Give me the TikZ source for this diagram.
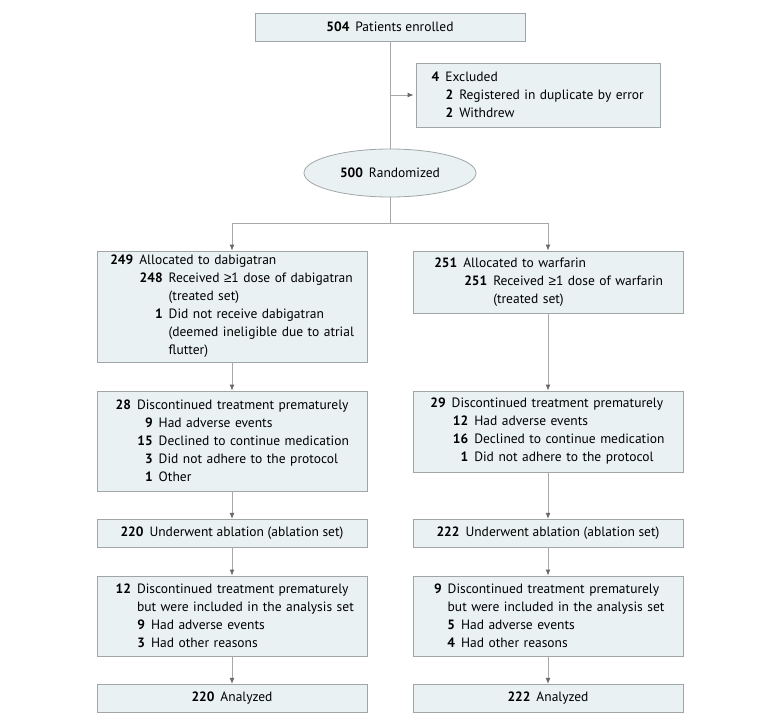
\documentclass[tikz,border=0pt]{standalone}
\usepackage{fontspec}
\setmainfont{PT Sans}
\newfontfamily\symfont{Liberation Sans}
\usetikzlibrary{shapes.geometric,arrows.meta}
\definecolor{boxfill}{RGB}{233,241,243}
\definecolor{boxline}{RGB}{160,166,168}
\definecolor{flowline}{RGB}{168,168,168}
\definecolor{tipgray}{RGB}{105,105,105}
% numbered line and continuation line inside a box
\newcommand{\itm}[3]{\makebox[#1pt][r]{\bfseries #2}\hspace{6pt}#3}
\newcommand{\cnt}[2]{\hspace*{\dimexpr#1pt+6pt\relax}#2}
\newcommand{\geqs}{{\symfont ≥}}

\begin{document}
\begin{tikzpicture}[x=1pt,y=-1pt,
	font=\fontsize{13.5}{18}\selectfont,
	box/.style={draw=boxline,fill=boxfill,line width=0.8pt,minimum width=270pt,inner sep=0pt},
	lbox/.style={box,text width=270pt,align=left},
	lne/.style={draw=flowline,line width=0.9pt},
	arr/.style={lne,-{Latex[length=6pt,width=5pt,color=tipgray]}}]
	\useasboundingbox (0,0) rectangle (780,726);
	\node[box,minimum height=28pt] (enrol) at (390,27) {\textbf{504}\hspace{6pt}Patients enrolled};
	\node[lbox,text width=244pt,minimum width=244pt,minimum height=64pt] (excl) at (538,95)
		{\itm{23.3}{4}{Excluded}\\ \itm{37.3}{2}{Registered in duplicate by error}\\ \itm{37.3}{2}{Withdrew}};
	\node[ellipse,draw=boxline,fill=boxfill,line width=0.8pt,minimum width=172pt,minimum height=48pt,inner sep=0pt]
		(rand) at (390,173) {\textbf{500}\hspace{6pt}Randomized};
	\coordinate (split) at (390,223);

	% dabigatran arm
	\node[lbox,minimum height=111pt] (dab1) at (232,306.5)
		{\itm{36.3}{249}{Allocated to dabigatran}\\ \itm{65.7}{248}{Received \geqs1 dose of dabigatran}\\
		\cnt{65.7}{(treated set)}\\ \itm{65.7}{1}{Did not receive dabigatran}\\
		\cnt{65.7}{(deemed ineligible due to atrial}\\ \cnt{65.7}{flutter)}};
	\node[lbox,minimum height=100pt] (dab2) at (232,441)
		{\itm{34}{28}{Discontinued treatment prematurely}\\ \itm{55.7}{9}{Had adverse events}\\
		\itm{55.7}{15}{Declined to continue medication}\\ \itm{55.7}{3}{Did not adhere to the protocol}\\
		\itm{55.7}{1}{Other}};
	\node[box,minimum height=28pt] (dab3) at (232,533.3) {\textbf{220}\hspace{6pt}Underwent ablation (ablation set)};
	\node[lbox,minimum height=80pt] (dab4) at (232,616)
		{\itm{34}{12}{Discontinued treatment prematurely}\\ \cnt{34}{but were included in the analysis set}\\
		\itm{48}{9}{Had adverse events}\\ \itm{48}{3}{Had other reasons}};
	\node[box,minimum height=28pt] (dab5) at (232,698.3) {\textbf{220}\hspace{6pt}Analyzed};

	% warfarin arm
	\node[lbox,minimum height=62pt] (war1) at (548,282)
		{\itm{44.3}{251}{Allocated to warfarin}\\ \itm{74.3}{251}{Received \geqs1 dose of warfarin}\\
		\cnt{74.3}{(treated set)}};
	\node[lbox,minimum height=81pt] (war2) at (548,431.5)
		{\itm{32.7}{29}{Discontinued treatment prematurely}\\ \itm{55.3}{12}{Had adverse events}\\
		\itm{55.3}{16}{Declined to continue medication}\\ \itm{55.3}{1}{Did not adhere to the protocol}};
	\node[box,minimum height=28pt] (war3) at (548,533.3) {\textbf{222}\hspace{6pt}Underwent ablation (ablation set)};
	\node[lbox,minimum height=80pt] (war4) at (548,616)
		{\itm{28.7}{9}{Discontinued treatment prematurely}\\ \cnt{28.7}{but were included in the analysis set}\\
		\itm{42}{5}{Had adverse events}\\ \itm{42}{4}{Had other reasons}};
	\node[box,minimum height=28pt] (war5) at (548,698.3) {\textbf{222}\hspace{6pt}Analyzed};

	% connectors
	\draw[lne] (enrol) -- (rand);
	\draw[arr,shorten >=2pt] (enrol.south |- excl.west) -- (excl.west);
	\draw[lne] (rand) -- (split);
	\draw[lne] (dab1.north |- split) -- (war1.north |- split);
	\draw[arr] (dab1.north |- split) -- (dab1);
	\draw[arr] (war1.north |- split) -- (war1);
	\foreach \a/\b in {dab1/dab2,dab2/dab3,dab3/dab4,dab4/dab5,war1/war2,war2/war3,war3/war4,war4/war5}
		\draw[arr] (\a) -- (\b);
\end{tikzpicture}
\end{document}
